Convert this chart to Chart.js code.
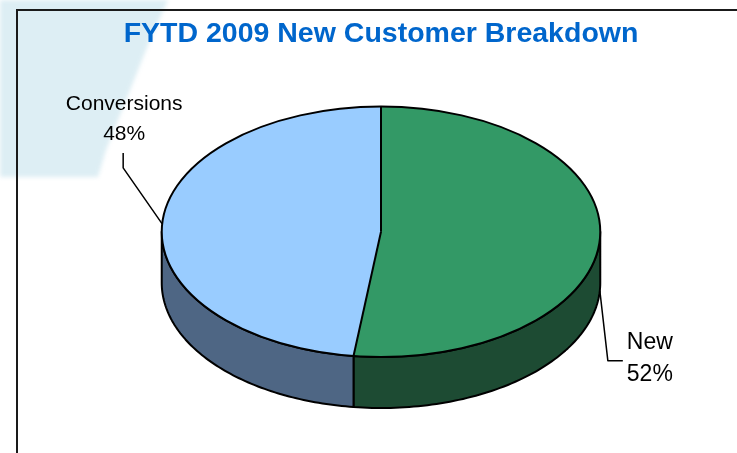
<!DOCTYPE html>
<html>
<head>
<meta charset="utf-8">
<script src="https://cdn.jsdelivr.net/npm/chart.js@4.4.1/dist/chart.umd.min.js"></script>
<style>
  html, body { margin: 0; padding: 0; background: #fff; overflow: hidden; width: 737px; height: 453px; }
  #wrap { position: relative; width: 737px; height: 453px; overflow: hidden; background: #fff; }
  #bandBlur { position: absolute; left: 0; top: 0; width: 220px; height: 200px; filter: blur(2px); }
  #band { width: 100%; height: 100%; background: #ddeef4;
    clip-path: polygon(0 0, 168px 0, 150px 40px, 126px 100px, 106px 150px, 98px 177px, 0 177px); }
  .rule { position: absolute; background: #1a1a1a; }
  #ruleV { left: 16px; top: 9px; width: 2px; height: 500px; }
  #ruleH { left: 16px; top: 9px; width: 800px; height: 2px; }
  #chart { position: absolute; left: 0; top: 0; }
</style>
</head>
<body>
<div id="wrap">
  <div id="bandBlur"><div id="band"></div></div>
  <div class="rule" id="ruleV"></div>
  <div class="rule" id="ruleH"></div>
  <canvas id="chart" width="737" height="453"></canvas>
</div>
<script>
// data
const categories = ["New", "Conversions"];
const shares = [52, 48];

// styles
const topColors = ["#339966", "#99ccff"];
const sideColors = ["#1d4b33", "#4e6684"];
const FONT = "'Liberation Sans', Arial, Helvetica, sans-serif";
const DEPTH = 51;    // thickness of the pie, px
const TILT = 0.571;  // ry / rx of the top face

// leader line + label layout, as offsets from each slice's anchor point
const labelLayout = [
  { size: 23, path: [[8, 70], [23, 70]], textX: 27, align: "left", lines: [52, 84] },
  { size: 21, path: [[-39, -56], [-39, -71]], textX: -38, align: "center", lines: [-120, -90] }
];

// ellipse geometry from the chart area: height minus depth gives the top face
function geom(chart) {
  const a = chart.chartArea;
  const ry = (a.bottom - a.top - DEPTH) / 2;
  return { cx: (a.left + a.right) / 2, cy: a.top + ry, rx: ry / TILT, ry };
}
const pt = (g, t, dy) => [g.cx + g.rx * Math.cos(t), g.cy + g.ry * Math.sin(t) + (dy || 0)];

// front (visible) parts of an angle range
function frontRanges(s, e) {
  const out = [];
  [[0, Math.PI], [2 * Math.PI, 3 * Math.PI], [-2 * Math.PI, -Math.PI]].forEach(([a, b]) => {
    const lo = Math.max(s, a), hi = Math.min(e, b);
    if (hi > lo) out.push([lo, hi]);
  });
  return out;
}

const pie3d = {
  id: "pie3d",
  beforeDatasetsDraw(chart) {
    const ctx = chart.ctx, g = geom(chart), meta = chart.getDatasetMeta(0);
    ctx.save();
    ctx.lineWidth = 2;
    ctx.strokeStyle = "#000";
    ctx.lineJoin = "round";
    meta.data.forEach((arc, i) => {
      frontRanges(arc.startAngle, arc.endAngle).forEach(([a, b]) => {
        const n = 80;
        ctx.beginPath();
        for (let k = 0; k <= n; k++) {
          const p = pt(g, a + (b - a) * k / n, 0);
          k ? ctx.lineTo(p[0], p[1]) : ctx.moveTo(p[0], p[1]);
        }
        for (let k = n; k >= 0; k--) {
          const p = pt(g, a + (b - a) * k / n, DEPTH);
          ctx.lineTo(p[0], p[1]);
        }
        ctx.closePath();
        ctx.fillStyle = sideColors[i];
        ctx.fill();
        ctx.stroke();
      });
    });
    ctx.restore();
    // squash the library's circle into the top ellipse
    const arc0 = meta.data[0], r = arc0.outerRadius;
    ctx.save();
    ctx.translate(g.cx, g.cy);
    ctx.scale(g.rx / r, g.ry / r);
    ctx.translate(-arc0.x, -arc0.y);
  },
  afterDatasetsDraw(chart) {
    const ctx = chart.ctx, g = geom(chart), meta = chart.getDatasetMeta(0);
    ctx.restore();
    ctx.save();
    ctx.lineWidth = 2;
    ctx.strokeStyle = "#000";
    ctx.lineJoin = "round";
    // top outline and slice edges
    ctx.beginPath();
    ctx.ellipse(g.cx, g.cy, g.rx, g.ry, 0, 0, Math.PI * 2);
    ctx.stroke();
    meta.data.forEach((arc) => {
      const p = pt(g, arc.startAngle, 0);
      ctx.beginPath();
      ctx.moveTo(g.cx, g.cy);
      ctx.lineTo(p[0], p[1]);
      ctx.stroke();
    });
    // leader lines and labels
    const total = shares.reduce((a, b) => a + b, 0);
    ctx.lineWidth = 1.5;
    ctx.fillStyle = "#000";
    ctx.textBaseline = "middle";
    meta.data.forEach((arc, i) => {
      const L = labelLayout[i];
      const mid = (arc.startAngle + arc.endAngle) / 2;
      const front = Math.sin(mid) > 0;
      const [ax, ay] = pt(g, mid, front ? DEPTH : 0);
      ctx.beginPath();
      ctx.moveTo(ax, ay);
      L.path.forEach(([dx, dy]) => ctx.lineTo(ax + dx, ay + dy));
      ctx.stroke();
      ctx.font = `${L.size}px ${FONT}`;
      ctx.textAlign = L.align;
      const pct = Math.round(shares[i] / total * 100) + "%";
      ctx.fillText(categories[i], ax + L.textX, ay + L.lines[0]);
      ctx.fillText(pct, ax + L.textX, ay + L.lines[1]);
    });
    ctx.restore();
  }
};

new Chart(document.getElementById("chart"), {
  type: "pie",
  data: {
    labels: categories,
    datasets: [{
      data: shares,
      backgroundColor: topColors,
      borderWidth: 0,
      clip: false
    }]
  },
  options: {
    responsive: false,
    animation: false,
    events: [],
    layout: { padding: { left: 25, right: 0, top: 0, bottom: 45 } },
    plugins: {
      legend: { display: false },
      tooltip: { enabled: false },
      title: {
        display: true,
        text: "FYTD 2009 New Customer Breakdown",
        color: "#0066cc",
        font: { family: FONT, size: 28.5, weight: "bold", lineHeight: 1.2 },
        padding: { top: 17, bottom: 55.4 }
      }
    }
  },
  plugins: [pie3d]
});
</script>
</body>
</html>
